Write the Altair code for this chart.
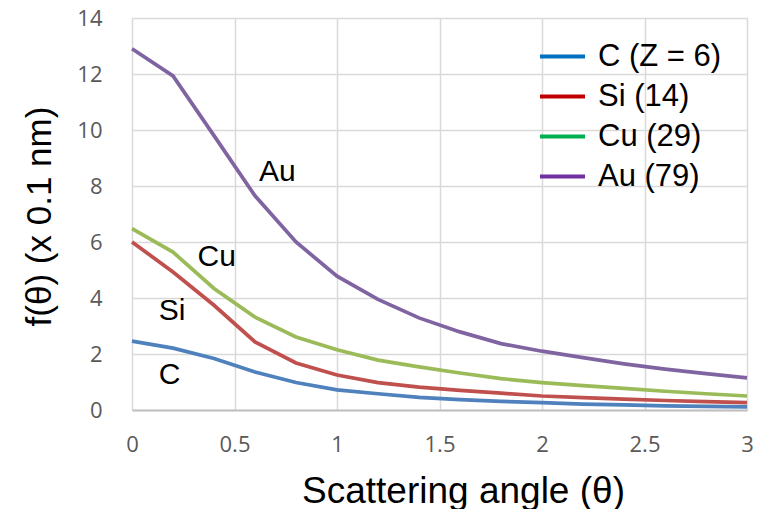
import altair as alt
import pandas as pd

# ---- data ----
theta = [0.0, 0.2, 0.4, 0.6, 0.8, 1.0, 1.2, 1.4, 1.6, 1.8, 2.0, 2.2, 2.4, 2.6, 2.8, 3.0]
f_C = [2.46, 2.21, 1.84, 1.36, 0.98, 0.72, 0.58, 0.45, 0.37, 0.31, 0.26, 0.21, 0.18, 0.15, 0.13, 0.11]
f_Si = [6.0, 4.93, 3.74, 2.43, 1.68, 1.25, 0.98, 0.82, 0.70, 0.60, 0.50, 0.44, 0.39, 0.34, 0.30, 0.26]
f_Cu = [6.48, 5.64, 4.34, 3.32, 2.61, 2.15, 1.78, 1.54, 1.32, 1.12, 0.98, 0.87, 0.77, 0.67, 0.58, 0.50]
f_Au = [12.9, 11.93, 9.8, 7.65, 6.0, 4.78, 3.95, 3.29, 2.79, 2.37, 2.10, 1.87, 1.65, 1.46, 1.30, 1.15]

elements = ["C", "Si", "Cu", "Au"]
legend_labels = ["C (Z = 6)", "Si (14)", "Cu (29)", "Au (79)"]
line_colors = ["#4F81BD", "#C0504D", "#9BBB59", "#8064A2"]
legend_colors = ["#0070C0", "#C00000", "#00B050", "#7030A0"]

# in-plot element labels (anchored in data units)
annot_text = ["Au", "Cu", "Si", "C"]
annot_x = [0.62, 0.32, 0.13, 0.13]
annot_y = [8.5, 5.45, 3.55, 1.25]

x_ticks = [0, 0.5, 1, 1.5, 2, 2.5, 3]
y_ticks = [0, 2, 4, 6, 8, 10, 12, 14]

series = {"C": f_C, "Si": f_Si, "Cu": f_Cu, "Au": f_Au}
rows = []
for el, lab in zip(elements, legend_labels):
    for t, v in zip(theta, series[el]):
        rows.append({"theta": t, "f": v, "element": el, "label": lab})
df = pd.DataFrame(rows)
ann = pd.DataFrame({"text": annot_text, "theta": annot_x, "f": annot_y})

x_enc = alt.X(
    "theta:Q",
    scale=alt.Scale(domain=[0, 3], nice=False, zero=False),
    axis=alt.Axis(
        values=x_ticks, format="~g", title="Scattering angle (θ)",
        titleFont="Liberation Sans", titleFontSize=37, titleFontWeight="normal",
        titleColor="black", titleBaseline="alphabetic", titleY=92,
        titleX=331, titleAlign="center",
        labelFont="Open Sans", labelFontSize=22, labelColor="#595959",
        labelPadding=24, labelFlush=False, ticks=False, grid=True,
        gridColor="#d9d9d9", gridWidth=1.5,
        domain=True, domainColor="#bfbfbf", domainWidth=2,
    ),
)
y_enc = alt.Y(
    "f:Q",
    scale=alt.Scale(domain=[0, 14], nice=False),
    axis=alt.Axis(
        values=y_ticks, title="f(θ) (x 0.1 nm)",
        titleFont="Liberation Sans", titleFontSize=35, titleFontWeight="normal",
        titleColor="black", titleAngle=-90, titleBaseline="alphabetic",
        titleX=-82, titleY=198, titleAlign="center",
        labelFont="Open Sans", labelFontSize=22, labelColor="#595959",
        labelPadding=30, labelFlush=False, ticks=False, grid=True,
        gridColor="#d9d9d9", gridWidth=1.5,
        domain=False,
    ),
)

base = alt.Chart(df)

# hidden layer carrying the legend (drawn beneath the visible lines)
legend_layer = base.mark_line(strokeWidth=1).encode(
    x=x_enc,
    y=y_enc,
    color=alt.Color(
        "label:N",
        sort=legend_labels,
        scale=alt.Scale(domain=legend_labels, range=legend_colors),
        legend=alt.Legend(
            title=None, orient="none", legendX=406, legendY=14, padding=0,
            symbolType="stroke", symbolSize=2025, symbolStrokeWidth=4,
            labelFont="Liberation Sans", labelFontSize=31, labelColor="black",
            labelOffset=11, rowPadding=-4, labelLimit=300,
        ),
    ),
    detail="element:N",
)

lines = base.mark_line(strokeWidth=3.7).encode(
    x="theta:Q",
    y="f:Q",
    stroke=alt.Stroke(
        "element:N",
        sort=elements,
        scale=alt.Scale(domain=elements, range=line_colors),
        legend=None,
    ),
)

labels = alt.Chart(ann).mark_text(
    align="left", baseline="middle", font="Liberation Sans", fontSize=30, color="black"
).encode(x="theta:Q", y="f:Q", text="text:N")

chart = (
    alt.layer(legend_layer, lines, labels)
    .properties(
        width=615,
        height=392,
        autosize=alt.AutoSizeParams(type="none"),
        padding={"left": 132, "top": 18, "right": 14, "bottom": 99},
        background="white",
    )
    .configure_view(stroke=None)
)

chart.save("out.html", embed_options={"renderer": "svg", "actions": False})
